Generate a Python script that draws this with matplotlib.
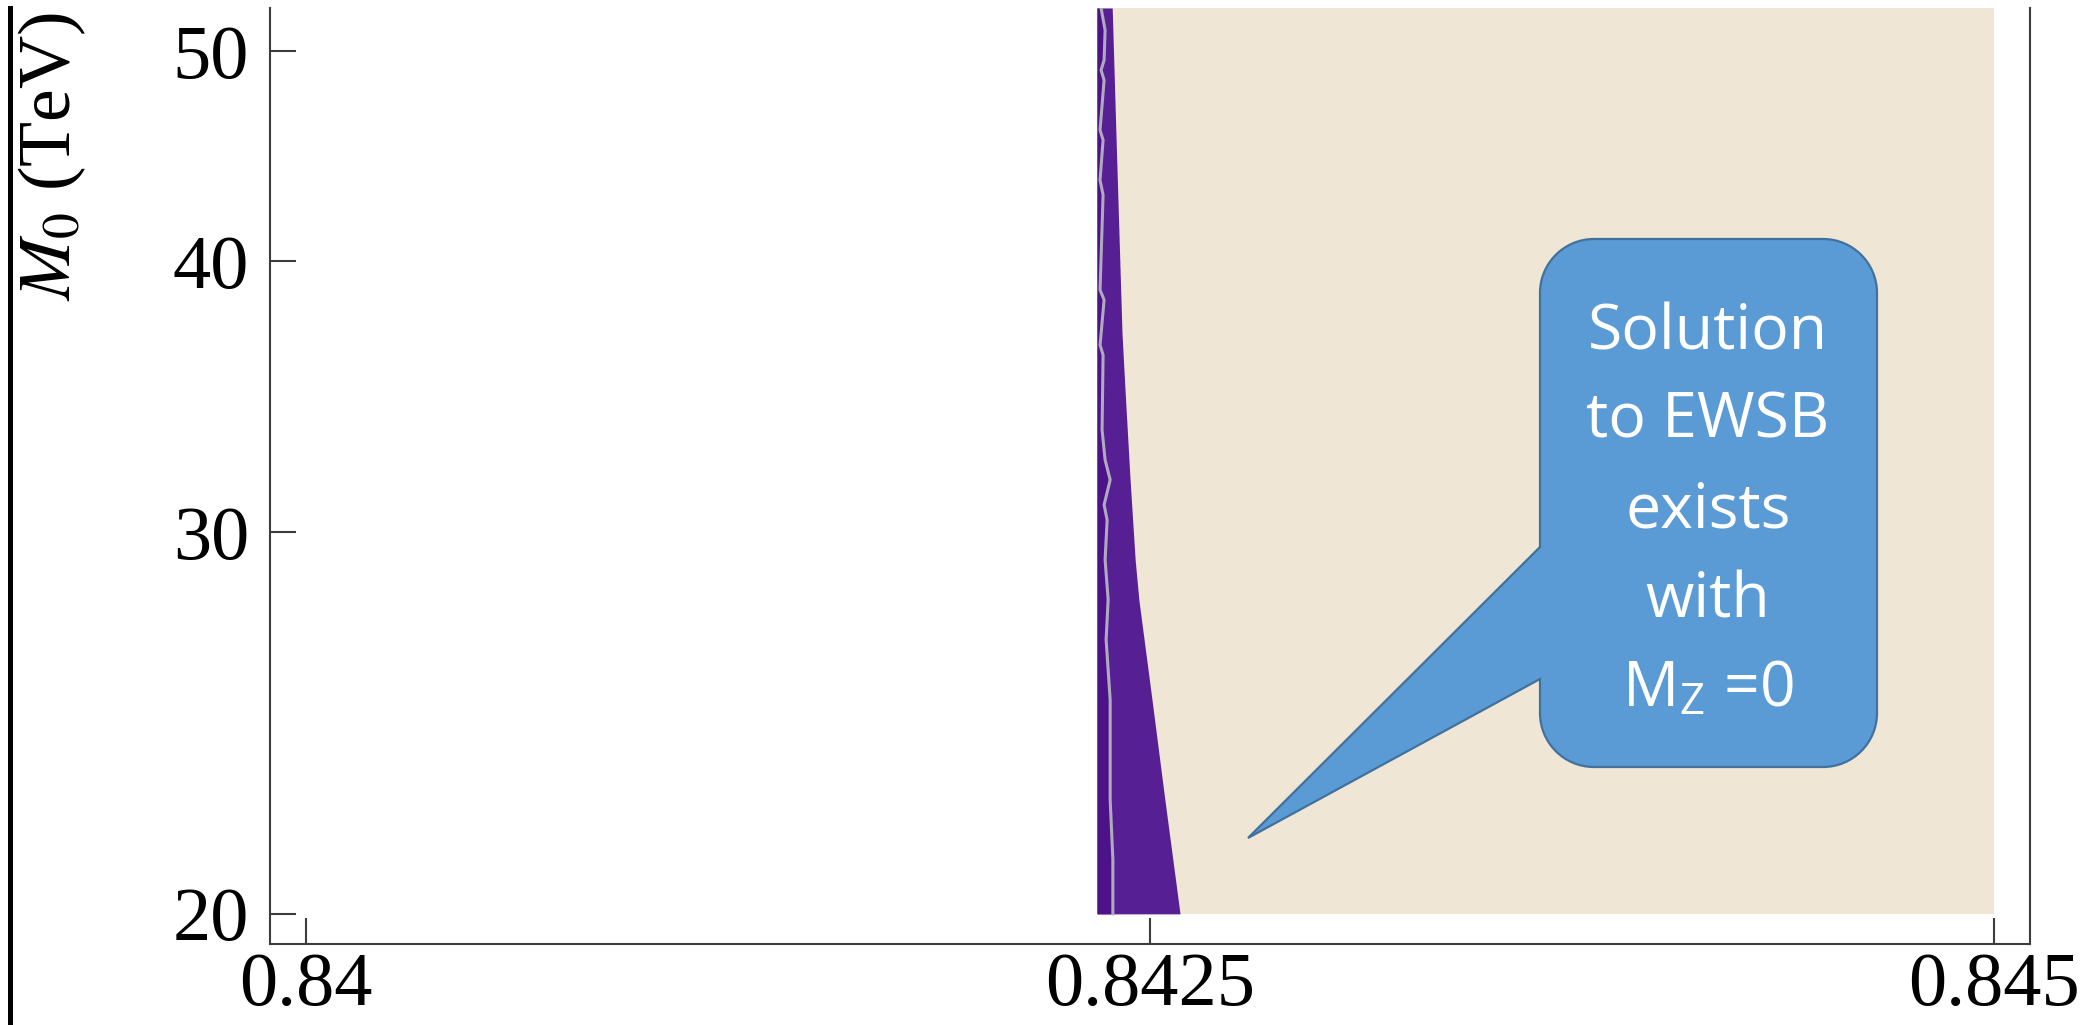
import matplotlib.pyplot as plt
import numpy as np
from matplotlib.path import Path
from matplotlib.patches import PathPatch
from matplotlib.lines import Line2D
from matplotlib.ticker import NullLocator, NullFormatter

plt.rcParams['mathtext.fontset'] = 'stix'

# right edge of the purple band: M0 (TeV) and the x where the band stops
edge_m0 = [20.0, 22.58, 25.10, 27.92, 29.13, 31.71, 34.89, 37.07, 41.22, 45.83, 52.34]
edge_x = [0.842589, 0.842544, 0.842506, 0.842467, 0.842456, 0.842441,
          0.842426, 0.842417, 0.842408, 0.842399, 0.842388]

# grey contour running through the band
contour_m0 = [20.0, 21.19, 22.58, 25.10, 26.76, 27.92, 29.13, 30.39, 30.88, 31.71,
              32.39, 33.44, 36.21, 36.59, 38.39, 38.80, 42.91, 43.60, 45.49, 45.98,
              48.48, 49.00, 49.52, 51.13, 52.34]
contour_x = [0.842390, 0.842390, 0.842382, 0.842382, 0.842370, 0.842376, 0.842367,
             0.842373, 0.842364, 0.842382, 0.842367, 0.842358, 0.842361, 0.842352,
             0.842364, 0.842352, 0.842361, 0.842352, 0.842361, 0.842352, 0.842364,
             0.842355, 0.842364, 0.842367, 0.842355]

band_left = 0.842343
x_max = 0.845
m0_range = [20.0, 52.34]

xticks = [0.84, 0.8425, 0.845]
xticklabels = ['0.84', '0.8425', '0.845']
yticks = [20, 30, 40, 50]
yticklabels = ['20', '30', '40', '50']

callout_lines = ['Solution', 'to EWSB', 'exists', 'with', r'M$_\mathregular{Z}$ =0']

W, H = 2080, 1025
fig = plt.figure(figsize=(W / 100, H / 100), dpi=100)


def fx(px):
    return px / W


def fy(py):
    return 1 - py / H


ax = fig.add_axes([fx(270), fy(944), fx(2030) - fx(270), fy(8) - fy(944)])

beige = '#efe6d6'
ax.fill_betweenx(m0_range, band_left, x_max, color=beige, lw=0)
ax.fill_betweenx(edge_m0, band_left, edge_x, color='#561f94', lw=0)
ax.fill_betweenx(contour_m0, band_left, contour_x, color='#4c1389', lw=0)
ax.plot(contour_x, contour_m0, color='#b0abbc', lw=2.2)

ax.set_yscale('log')
ax.set_xlim(0.839893, 0.845107)
ax.set_ylim(19.37, 52.34)

ax.set_xticks(xticks)
ax.set_xticklabels(xticklabels, fontfamily='Liberation Serif', fontsize=55)
ax.set_yticks(yticks)
ax.set_yticklabels(yticklabels, fontfamily='Liberation Serif', fontsize=55)
ax.yaxis.set_minor_locator(NullLocator())
ax.yaxis.set_minor_formatter(NullFormatter())

spine_col = '#3c3c3c'
ax.tick_params(direction='in', length=18.5, width=1.5, color=spine_col)
ax.tick_params(axis='y', pad=15)
ax.tick_params(axis='x', pad=6)

ax.spines['top'].set_visible(False)
for side in ['left', 'right', 'bottom']:
    ax.spines[side].set_color(spine_col)
    ax.spines[side].set_linewidth(1.5)

# axis label sits up at the top of the left margin
fig.text(fx(52), fy(157), r'$M_0$ (TeV)', rotation=90, ha='center', va='center',
         fontsize=53, fontfamily='Liberation Serif')

# heavy rule down the left edge
fig.add_artist(Line2D([fx(9.5), fx(9.5)], [0, fy(8)], color='black', lw=3.6,
                      transform=fig.transFigure))

# speech-bubble callout with a tail pointing into the beige region
L, R, T, B, r = 1540, 1877, 239, 767, 54
k = 0.5523 * r
tail_top, tail_bot, tip = 547, 679, (1248, 838)
pts = [
    (L + r, T), (R - r, T),
    (R - r + k, T), (R, T + r - k), (R, T + r),
    (R, B - r),
    (R, B - r + k), (R - r + k, B), (R - r, B),
    (L + r, B),
    (L + r - k, B), (L, B - r + k), (L, B - r),
    (L, tail_bot), tip, (L, tail_top),
    (L, T + r),
    (L, T + r - k), (L + r - k, T), (L + r, T),
    (L + r, T),
]
codes = [Path.MOVETO, Path.LINETO,
         Path.CURVE4, Path.CURVE4, Path.CURVE4,
         Path.LINETO,
         Path.CURVE4, Path.CURVE4, Path.CURVE4,
         Path.LINETO,
         Path.CURVE4, Path.CURVE4, Path.CURVE4,
         Path.LINETO, Path.LINETO, Path.LINETO,
         Path.LINETO,
         Path.CURVE4, Path.CURVE4, Path.CURVE4,
         Path.CLOSEPOLY]
verts = [(fx(x), fy(y)) for x, y in pts]
bubble = PathPatch(Path(verts, codes), facecolor='#5b9bd5', edgecolor='#41719c',
                   lw=1.6, transform=fig.transFigure, zorder=5)
fig.add_artist(bubble)

baselines = [349, 438, 527, 617, 707]
for line, base in zip(callout_lines, baselines):
    fig.text(fx(1708), fy(base), line, ha='center', va='baseline', color='white',
             fontsize=45, fontfamily='Open Sans', zorder=6)

fig.savefig('out.png', dpi=100)
